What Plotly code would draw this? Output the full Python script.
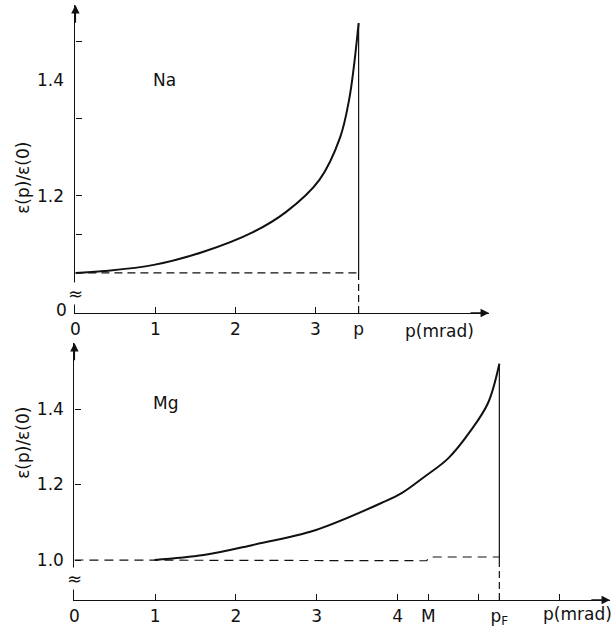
import plotly.graph_objects as go

W, H = 613, 632

# ---------------- data ----------------
# Na panel
na_p = [0.0, 0.36, 0.98, 1.60, 2.22, 2.63, 3.05, 3.31, 3.42, 3.48, 3.54]
na_ratio = [1.0, 1.005, 1.021, 1.055, 1.106, 1.158, 1.242, 1.353, 1.449, 1.535, 1.649]
na_pF = 3.54
na_base_p = [0.0, 3.54]
na_base_ratio = [1.0, 1.0]

# Mg panel
mg_p = [0.99, 1.60, 2.21, 2.98, 3.80, 4.05, 4.33, 4.63, 4.91, 5.12, 5.26]
mg_ratio = [1.0, 1.013, 1.040, 1.079, 1.151, 1.177, 1.220, 1.270, 1.344, 1.416, 1.52]
mg_pF = 5.26
mg_M = 4.38
mg_base_p = [0.0, 4.30, 4.36, 4.40, 5.26]
mg_base_ratio = [1.0, 0.998, 0.998, 1.008, 1.008]

# axis ticks / labels
na_xticks = [0, 1, 2, 3, na_pF]
na_xticktext = ["0", "1", "2", "3", "p"]
na_yticks = [1.1, 1.2, 1.4, 1.6]
na_ylabels = [("1.4", 1.5), ("1.2", 1.2)]

mg_xticks = [0, 1, 2, 3, 4, mg_M, 5, mg_pF, 6]
mg_xticktext = ["0", "1", "2", "3", "4", "M", "", "p<sub>F</sub>", ""]
mg_yticks = [1.0, 1.2, 1.4]
mg_yticktext = ["1.0", "1.2", "1.4"]

ytitle = "ε(p)/ε(0)"
xtitle = "p(mrad)"

# ---------------- layout geometry ----------------
na_xr = [0, 5.17]
na_yr = [0.896, 1.696]
mg_xr = [0, 6.63]
mg_yr = [0.894, 1.575]

FONT = "DejaVu Sans"
fs = 17
blk = "#111"

fig = go.Figure()

# Na curve
fig.add_trace(go.Scatter(x=na_p, y=na_ratio, mode="lines", line=dict(color=blk, width=2, shape="spline", smoothing=1.0),
                         xaxis="x", yaxis="y", hoverinfo="skip"))
fig.add_trace(go.Scatter(x=na_base_p, y=na_base_ratio, mode="lines", line=dict(color=blk, width=1.3, dash="8px,5px"),
                         xaxis="x", yaxis="y", hoverinfo="skip"))
fig.add_trace(go.Scatter(x=[na_pF, na_pF], y=[na_ratio[-1], 1.0], mode="lines", line=dict(color=blk, width=1.2),
                         xaxis="x", yaxis="y", hoverinfo="skip"))
fig.add_trace(go.Scatter(x=[na_pF, na_pF], y=[1.0, na_yr[0]], mode="lines", line=dict(color=blk, width=1.2, dash="7px,4px"),
                         xaxis="x", yaxis="y", hoverinfo="skip"))

# Mg curve
fig.add_trace(go.Scatter(x=mg_p, y=mg_ratio, mode="lines", line=dict(color=blk, width=2, shape="spline", smoothing=1.0),
                         xaxis="x2", yaxis="y2", hoverinfo="skip"))
fig.add_trace(go.Scatter(x=mg_base_p, y=mg_base_ratio, mode="lines", line=dict(color=blk, width=1.2, dash="9px,6px"),
                         xaxis="x2", yaxis="y2", hoverinfo="skip"))
fig.add_trace(go.Scatter(x=[mg_pF, mg_pF], y=[mg_ratio[-1], 1.0], mode="lines", line=dict(color=blk, width=1.2),
                         xaxis="x2", yaxis="y2", hoverinfo="skip"))
fig.add_trace(go.Scatter(x=[mg_pF, mg_pF], y=[1.0, mg_yr[0]], mode="lines", line=dict(color=blk, width=1.2, dash="7px,4px"),
                         xaxis="x2", yaxis="y2", hoverinfo="skip"))

axcommon = dict(showgrid=False, zeroline=False, showline=True, linecolor=blk, linewidth=1.3,
                ticks="inside", ticklen=6, tickwidth=1, tickcolor=blk,
                tickfont=dict(family=FONT, size=fs, color=blk), fixedrange=True)

fig.update_layout(
    width=W, height=H, margin=dict(l=0, r=0, t=0, b=0), autosize=False,
    paper_bgcolor="white", plot_bgcolor="white", showlegend=False,
    font=dict(family=FONT, size=fs, color=blk),
    xaxis=dict(axcommon, domain=[71 / W, 488 / W], range=na_xr, anchor="y",
               tickvals=na_xticks, ticktext=na_xticktext),
    yaxis=dict(axcommon, domain=[1 - 313 / H, 1 - 5 / H], range=na_yr, anchor="x",
               tickvals=na_yticks, ticktext=[""] * len(na_yticks)),
    xaxis2=dict(axcommon, domain=[70 / W, 610 / W], range=mg_xr, anchor="y2",
                tickvals=mg_xticks, ticktext=mg_xticktext),
    yaxis2=dict(axcommon, domain=[1 - 600 / H, 1 - 343 / H], range=mg_yr, anchor="x2",
                tickvals=mg_yticks, ticktext=mg_yticktext, ticklabelstandoff=6),
)

ann = []
# arrows on axes
for xr, yr, xa, ya in [(na_xr, na_yr, "x", "y"), (mg_xr, mg_yr, "x2", "y2")]:
    ann.append(dict(x=xr[1], y=yr[0], ax=xr[1] - 0.25, ay=yr[0], xref=xa, yref=ya, axref=xa, ayref=ya,
                    showarrow=True, arrowhead=2, arrowsize=1.3, arrowwidth=1.3, arrowcolor=blk, text=""))
    ann.append(dict(x=0, y=yr[1], ax=0, ay=yr[1] - 0.05, xref=xa, yref=ya, axref=xa, ayref=ya,
                    showarrow=True, arrowhead=2, arrowsize=1.3, arrowwidth=1.3, arrowcolor=blk, text=""))


def txt(x, y, t, **kw):
    d = dict(x=x / W, y=1 - y / H, xref="paper", yref="paper", text=t, showarrow=False,
             xanchor="center", yanchor="middle", font=dict(size=fs, family=FONT, color=blk))
    d.update(kw)
    return d


# Na y labels
for t, v in na_ylabels:
    ann.append(dict(x=61 / W, y=v, xref="paper", yref="y", text=t, showarrow=False,
                    xanchor="right", yanchor="middle", font=dict(size=fs)))
ann.append(txt(65, 310, "0", xanchor="right"))

# axis-break marks
ann.append(dict(x=0, y=1 - 293 / H, xref="x", yref="paper", text="≈", showarrow=False,
                xanchor="center", yanchor="middle", font=dict(size=18), bgcolor="white", borderpad=0))
ann.append(dict(x=0, y=1 - 578 / H, xref="x2", yref="paper", text="≈", showarrow=False,
                xanchor="center", yanchor="middle", font=dict(size=18), bgcolor="white", borderpad=0))

# panel labels
ann.append(txt(161, 80, "Na"))
ann.append(txt(162, 403, "Mg"))

# axis titles
ann.append(txt(438, 331, xtitle))
ann.append(txt(577, 614, xtitle))
ann.append(txt(18, 178, ytitle, textangle=-90))
ann.append(txt(18, 443, ytitle, textangle=-90))

fig.update_layout(annotations=ann)
fig.write_html("out.html", config={"displayModeBar": False, "responsive": False},
               post_script="document.body.style.margin='0';document.body.style.overflow='hidden';")
